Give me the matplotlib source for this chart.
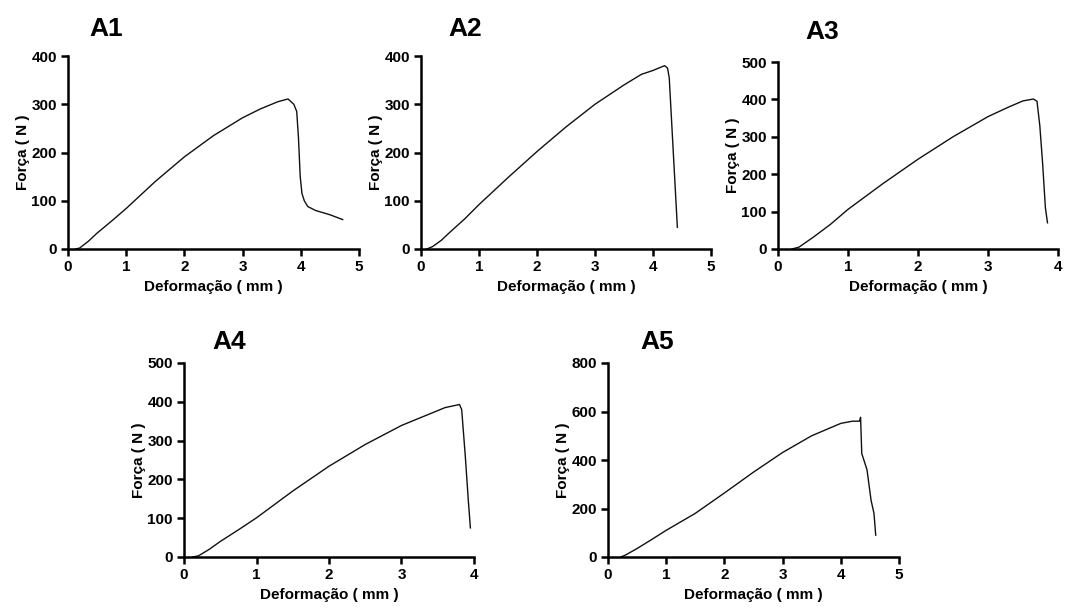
import matplotlib
matplotlib.use("Agg")
import matplotlib.pyplot as plt

plt.rcParams['font.family'] = ['Liberation Sans', 'DejaVu Sans']
plt.rcParams['font.weight'] = 'bold'

# ---- data ----
a1_x = [0.13, 0.2, 0.35, 0.5, 0.75, 1.0, 1.5, 2.0, 2.5, 3.0, 3.3, 3.6, 3.78, 3.88, 3.93, 3.96, 3.99, 4.02, 4.06, 4.12, 4.25, 4.5, 4.72]
a1_y = [0, 2, 16, 33, 58, 84, 140, 191, 235, 272, 290, 305, 311, 300, 285, 230, 150, 115, 100, 88, 80, 71, 61]

a2_x = [0.1, 0.2, 0.35, 0.5, 0.75, 1.0, 1.5, 2.0, 2.5, 3.0, 3.5, 3.8, 4.0, 4.2, 4.25, 4.28, 4.35, 4.42]
a2_y = [0, 5, 18, 35, 62, 92, 148, 202, 253, 300, 340, 362, 370, 380, 375, 355, 200, 45]

a3_x = [0.2, 0.3, 0.5, 0.75, 1.0, 1.5, 2.0, 2.5, 3.0, 3.3, 3.5, 3.65, 3.7, 3.74, 3.78, 3.82, 3.85]
a3_y = [0, 5, 31, 66, 106, 175, 240, 300, 354, 380, 396, 401, 395, 330, 230, 110, 70]

a4_x = [0.12, 0.2, 0.35, 0.5, 0.75, 1.0, 1.5, 2.0, 2.5, 3.0, 3.3, 3.6, 3.8, 3.83, 3.88, 3.92, 3.95]
a4_y = [0, 3, 20, 40, 70, 101, 170, 234, 290, 339, 362, 385, 393, 380, 260, 150, 75]

a5_x = [0.22, 0.3, 0.5, 0.75, 1.0, 1.5, 2.0, 2.5, 3.0, 3.5, 4.0, 4.2, 4.32, 4.34, 4.36, 4.45, 4.52, 4.57, 4.6]
a5_y = [0, 8, 35, 72, 110, 180, 264, 350, 431, 500, 551, 560, 560, 576, 427, 360, 234, 180, 90]

titles = ['A1', 'A2', 'A3', 'A4', 'A5']
xs = [a1_x, a2_x, a3_x, a4_x, a5_x]
ys = [a1_y, a2_y, a3_y, a4_y, a5_y]
xmaxs = [5, 5, 4, 4, 5]
ymaxs = [400, 400, 500, 500, 800]
ysteps = [100, 100, 100, 100, 200]
xlabel = 'Deformação ( mm )'
ylabel = 'Força ( N )'

W, H = 1065, 610
fig = plt.figure(figsize=(W / 100, H / 100), dpi=100)

# axes boxes in pixels: left, right, top, bottom
boxes = [(68, 359, 56, 249),
         (421, 711, 56, 249),
         (778, 1058, 62, 249),
         (184, 474, 363, 557),
         (608, 899, 363, 557)]
title_pos = [(106, 29), (465, 29), (822, 32), (229, 342), (657, 342)]

for i in range(5):
    l, r, t, b = boxes[i]
    ax = fig.add_axes([l / W, (H - b) / H, (r - l) / W, (b - t) / H])
    ax.plot(xs[i], ys[i], color='#111111', lw=1.0)
    ax.set_xlim(0, xmaxs[i])
    ax.set_ylim(0, ymaxs[i])
    ax.set_xticks(range(0, xmaxs[i] + 1))
    ax.set_yticks(range(0, ymaxs[i] + 1, ysteps[i]))
    for s in ['top', 'right']:
        ax.spines[s].set_visible(False)
    for s in ['left', 'bottom']:
        ax.spines[s].set_linewidth(1.8)
    ax.tick_params(direction='out', length=5, width=1.8, labelsize=11, pad=3)
    for lab in ax.get_xticklabels() + ax.get_yticklabels():
        lab.set_fontweight('bold')
    ax.set_xlabel(xlabel, fontsize=11, fontweight='bold', labelpad=4)
    ax.set_ylabel(ylabel, fontsize=11, fontweight='bold', labelpad=1)
    tx, ty = title_pos[i]
    fig.text(tx / W, 1 - ty / H, titles[i], fontsize=19, fontweight='bold',
             ha='center', va='center')

fig.savefig('out.png', dpi=100, facecolor='white')
